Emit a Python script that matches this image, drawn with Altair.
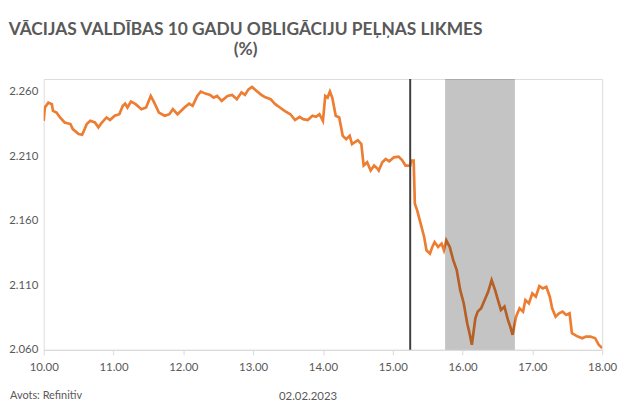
import altair as alt
import pandas as pd

# ---- data (time of day, yield %) ----
times = [
    "10:00", "10:01", "10:04", "10:07", "10:08", "10:11", "10:14", "10:18", "10:23", "10:25",
    "10:30", "10:33", "10:34", "10:37", "10:40", "10:44", "10:47", "10:50", "10:54", "10:57",
    "11:01", "11:05", "11:08", "11:10", "11:12", "11:15", "11:19", "11:24", "11:28", "11:32",
    "11:35", "11:39", "11:44", "11:48", "11:51", "11:55", "12:01", "12:05", "12:08", "12:12",
    "12:15", "12:19", "12:23", "12:26", "12:29", "12:33", "12:38", "12:42", "12:46", "12:50",
    "12:53", "12:56", "12:59", "13:03", "13:07", "13:10", "13:15", "13:19", "13:23", "13:27",
    "13:32", "13:36", "13:40", "13:43", "13:47", "13:51", "13:54", "13:57", "14:00", "14:02",
    "14:04", "14:06", "14:08", "14:11", "14:14", "14:17", "14:20", "14:23", "14:25", "14:30",
    "14:33", "14:35", "14:38", "14:41", "14:44", "14:47", "14:48", "14:51", "14:54", "14:57",
    "15:01", "15:05", "15:08", "15:11", "15:15", "15:16", "15:18", "15:19", "15:21", "15:24",
    "15:27", "15:29", "15:32", "15:34", "15:36", "15:39", "15:42", "15:44", "15:46", "15:49",
    "15:52", "15:55", "15:58", "16:01", "16:04", "16:06", "16:08", "16:11", "16:13", "16:16",
    "16:19", "16:22", "16:25", "16:28", "16:30", "16:33", "16:36", "16:39", "16:41", "16:43",
    "16:46", "16:49", "16:52", "16:54", "16:57", "17:00", "17:03", "17:06", "17:09", "17:12",
    "17:15", "17:17", "17:20", "17:23", "17:26", "17:29", "17:32", "17:34", "17:39", "17:43",
    "17:46", "17:50", "17:54", "17:57", "18:00",
]
yields = [
    2.2376, 2.2479, 2.2517, 2.2505, 2.2453, 2.2440, 2.2402, 2.2363, 2.2351, 2.2312,
    2.2273, 2.2268, 2.2286, 2.2351, 2.2376, 2.2363, 2.2325, 2.2363, 2.2402, 2.2382,
    2.2415, 2.2427, 2.2492, 2.2509, 2.2479, 2.2525, 2.2505, 2.2466, 2.2479, 2.2569,
    2.2517, 2.2440, 2.2415, 2.2427, 2.2466, 2.2427, 2.2479, 2.2509, 2.2492, 2.2569,
    2.2603, 2.2587, 2.2577, 2.2556, 2.2569, 2.2531, 2.2569, 2.2577, 2.2544, 2.2597,
    2.2577, 2.2620, 2.2639, 2.2608, 2.2577, 2.2561, 2.2544, 2.2505, 2.2479, 2.2453,
    2.2427, 2.2382, 2.2407, 2.2389, 2.2382, 2.2415, 2.2407, 2.2427, 2.2376, 2.2569,
    2.2556, 2.2603, 2.2556, 2.2415, 2.2402, 2.2260, 2.2234, 2.2260, 2.2196, 2.2226,
    2.2196, 2.2029, 2.2054, 2.1990, 2.2029, 2.2003, 2.1990, 2.2054, 2.2080, 2.2062,
    2.2093, 2.2098, 2.2072, 2.2029, 2.2029, 2.2067, 2.2067, 2.1733, 2.1681, 2.1578,
    2.1475, 2.1372, 2.1346, 2.1398, 2.1436, 2.1398, 2.1424, 2.1372, 2.1449, 2.1398,
    2.1295, 2.1218, 2.1063, 2.0961, 2.0806, 2.0729, 2.0639, 2.0845, 2.0896, 2.0922,
    2.0986, 2.1050, 2.1141, 2.1063, 2.0999, 2.0909, 2.0935, 2.0832, 2.0780, 2.0716,
    2.0857, 2.0922, 2.0896, 2.0986, 2.0961, 2.1037, 2.1012, 2.1094, 2.1076, 2.1089,
    2.1012, 2.0922, 2.0857, 2.0883, 2.0896, 2.0870, 2.0883, 2.0729, 2.0703, 2.0690,
    2.0703, 2.0703, 2.0690, 2.0639, 2.0613,
]

hour_ticks = [10, 11, 12, 13, 14, 15, 16, 17, 18]
yield_ticks = [2.060, 2.110, 2.160, 2.210, 2.260]
y_domain = [2.060, 2.270]

decision_time = ["15:15"]          # vertical marker
press_start = ["15:45"]            # shaded window
press_end = ["16:45"]

title_lines = ["VĀCIJAS VALDĪBAS 10 GADU OBLIGĀCIJU PEĻŅAS LIKMES", "(%)"]
x_title = "02.02.2023"
source_text = ["Avots: Refinitiv"]


def to_hour(s):
    return int(s[:2]) + int(s[3:]) / 60.0


df = pd.DataFrame({"time": times, "yield": yields})
df["hour"] = df["time"].map(to_hour)

rule_df = pd.DataFrame({"hour": [to_hour(t) for t in decision_time]})
band_df = pd.DataFrame({
    "start": [to_hour(t) for t in press_start],
    "end": [to_hour(t) for t in press_end],
})
src_df = pd.DataFrame({"label": source_text})

FONT = "Lato"
GREY = "#595959"
W, H = 563, 273

x_enc = alt.X(
    "hour:Q",
    scale=alt.Scale(domain=[10, 18], nice=False, zero=False),
    axis=alt.Axis(
        values=hour_ticks, format=".2f", title=x_title,
        grid=False, domainColor="#D9D9D9", tickColor="#D9D9D9", tickSize=5,
        labelColor=GREY, labelFontSize=11.5, labelFont=FONT, labelPadding=7,
        labelFlush=False, labelOverlap=False,
        titleColor=GREY, titleFontSize=11.5, titleFont=FONT, titleFontWeight="normal",
        titlePadding=18, titleX=266, titleAlign="center",
    ),
)
y_enc = alt.Y(
    "yield:Q",
    scale=alt.Scale(domain=y_domain, nice=False, zero=False),
    axis=alt.Axis(
        values=yield_ticks, format=".3f", title=None, grid=False,
        domain=False, ticks=False, labelColor=GREY, labelFontSize=11.5,
        labelFont=FONT, labelPadding=6,
    ),
)

line = alt.Chart(df).mark_line(color="#ED7D31", strokeWidth=2.7, clip=True).encode(
    x=x_enc, y=y_enc
)

band = alt.Chart(band_df).mark_rect(color="#000000", opacity=0.23).encode(
    x="start:Q", x2="end:Q"
)

rule = alt.Chart(rule_df).mark_rule(color="#404040", strokeWidth=2).encode(
    x="hour:Q"
)

source = alt.Chart(src_df).mark_text(
    align="left", baseline="alphabetic", font=FONT, fontSize=11, color=GREY
).encode(
    x=alt.value(-34), y=alt.value(H + 50), text="label:N"
)

chart = alt.layer(line, band, rule, source).properties(
    width=W,
    height=H,
    autosize=alt.AutoSizeParams(type="none"),
    padding={"left": 36, "top": 70, "right": 20, "bottom": 52},
    title=alt.TitleParams(
        text=title_lines, font=FONT, fontSize=17.5, fontWeight="bold",
        color=GREY, anchor="middle", dx=-78, offset=20, lineHeight=20,
    ),
).configure_view(stroke=None).configure(background="white")

chart.save("out.html", embed_options={"renderer": "svg", "actions": False})
